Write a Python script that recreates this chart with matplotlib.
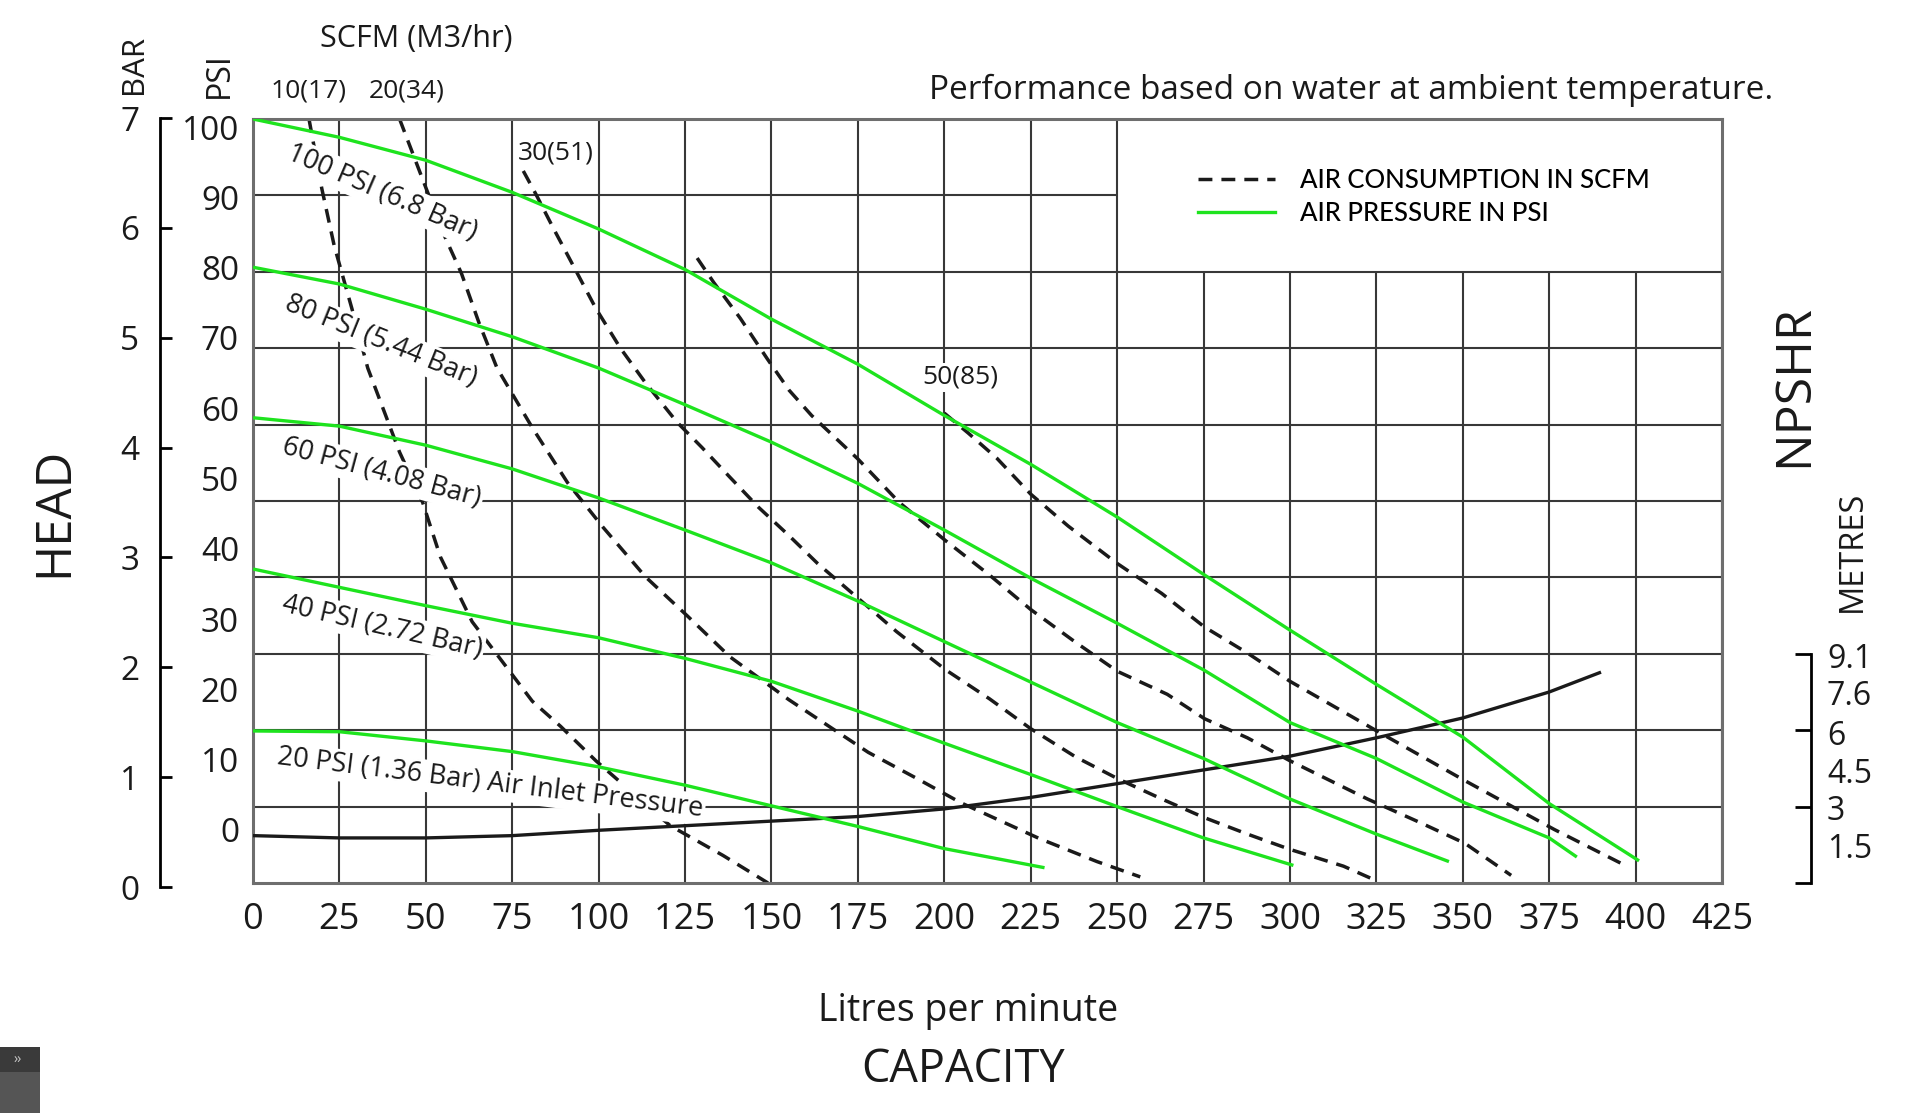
import numpy as np
import matplotlib
matplotlib.use('Agg')
import matplotlib.pyplot as plt
from matplotlib.lines import Line2D
from matplotlib.patches import Rectangle

plt.rcParams['font.family'] = ['Open Sans', 'DejaVu Sans']
plt.rcParams['font.weight'] = 'medium'

# ---- data: capacity (l/min) vs head (psi grid units) ----
psi100_lpm = [0, 25, 50, 75, 100, 125, 150, 175, 200, 225, 250, 275, 300, 325, 350, 375, 401]
psi100_head = [100, 97.6, 94.6, 90.4, 85.6, 80.3, 73.8, 67.9, 61.2, 54.8, 47.9, 40.4, 33.1, 26.0, 19.1, 10.4, 2.9]

psi80_lpm = [0, 25, 50, 75, 100, 125, 150, 175, 200, 225, 250, 275, 300, 325, 350, 375, 383]
psi80_head = [80.6, 78.4, 75.1, 71.5, 67.4, 62.6, 57.7, 52.3, 46.2, 39.9, 34.0, 27.9, 21.0, 16.3, 10.6, 5.9, 3.4]

psi60_lpm = [0, 25, 50, 75, 100, 125, 150, 175, 200, 225, 250, 275, 300, 325, 346]
psi60_head = [60.9, 59.8, 57.3, 54.2, 50.4, 46.2, 41.9, 36.9, 31.6, 26.3, 21.0, 16.3, 11.0, 6.4, 2.8]

psi40_lpm = [0, 25, 50, 75, 100, 125, 150, 175, 200, 225, 250, 275, 301]
psi40_head = [41.1, 38.7, 36.3, 34.0, 32.1, 29.4, 26.4, 22.5, 18.3, 14.2, 10.0, 5.9, 2.3]

psi20_lpm = [0, 25, 50, 75, 100, 125, 150, 175, 200, 229]
psi20_head = [19.9, 19.8, 18.6, 17.2, 15.2, 12.8, 10.1, 7.4, 4.5, 2.0]

npshr_lpm = [0, 25, 50, 75, 100, 125, 150, 175, 200, 225, 250, 275, 300, 325, 350, 375, 390]
npshr_ft = [6.2, 5.9, 5.9, 6.2, 6.9, 7.5, 8.1, 8.7, 9.7, 11.2, 13.0, 14.8, 16.6, 19.0, 21.6, 25.0, 27.6]

scfm10_lpm = [16.2, 19.9, 23.5, 28.6, 33.2, 42.4, 49.1, 54.2, 63.4, 72.6, 80.8, 89.0, 99.2, 120.7, 136.0, 149]
scfm10_head = [100, 90.9, 83.4, 75.2, 67.4, 56.4, 49.8, 42.7, 34.2, 28.7, 23.8, 20.5, 16.0, 7.5, 3.6, 0]

scfm20_lpm = [42.4, 50.1, 55.7, 60.3, 65.4, 70.6, 75.7, 80.8, 91.0, 101.2, 113.5, 125.8, 138.0, 155, 178, 192.4, 204.8, 227.6, 244.2, 256.7]
scfm20_head = [100, 90.9, 84.4, 79.8, 73.3, 67.4, 63.5, 59.6, 52.4, 46.6, 40.1, 34.9, 29.6, 24.0, 17.1, 13.6, 10.5, 5.8, 2.8, 0.8]

scfm30_lpm = [78.2, 81.8, 86.9, 93.0, 99.2, 106.3, 113.5, 122.7, 129.9, 138.0, 146.2, 155, 163.4, 175, 186.2, 200.4,
              213.1, 225, 238, 250.4, 262.9, 275, 287.7, 300, 315.5, 324]
scfm30_head = [93.2, 90.2, 85.7, 80.5, 75.2, 70.0, 65.5, 60.3, 57.0, 53.1, 49.2, 45.5, 41.8, 37.3, 32.9, 27.9,
               24.1, 20.2, 16.5, 13.6, 11.0, 8.6, 6.4, 4.4, 2.2, 0.5]

scfm40_lpm = [128.5, 133.3, 141, 148.8, 155.1, 161.6, 175, 187, 200.4, 213.1, 225, 238, 250.1, 264.5, 275.3,
              287.7, 300, 322.4, 337.7, 350.6, 364]
scfm40_head = [81.8, 78.6, 73.9, 68.6, 64.5, 61.2, 55.5, 49.8, 44.8, 40.3, 35.8, 31.5, 27.7, 24.7, 21.5,
               19.0, 16.0, 11.0, 7.9, 5.2, 1.0]

scfm50_lpm = [200, 206.9, 215.2, 225, 235.9, 250.1, 262.9, 275.3, 287.7, 300, 315.5, 325.9, 350.6, 376.5, 397]
scfm50_head = [61.5, 58.9, 55.6, 50.9, 46.7, 41.8, 37.9, 33.5, 30.1, 26.4, 22.4, 19.7, 13.4, 7.0, 2.3]

x_ticks = list(range(0, 426, 25))
psi_ticks = list(range(0, 101, 10))
bar_ticks = list(range(0, 8))
metre_labels = ['1.5', '3', '4.5', '6', '7.6', '9.1']
metre_values = [1.5, 3.0, 4.5, 6.0, 7.6, 9.1]

W, H = 1920, 1113
GREEN = '#1ee31e'
INK = '#1a1a1a'


def fx(px):
    return px / W


def fy(py):
    return 1 - py / H


fig = plt.figure(figsize=(W / 100, H / 100), dpi=100)

# main grid area
ax = fig.add_axes([fx(253), fy(883), fx(1722) - fx(253), fy(119) - fy(883)])
ax.set_xlim(0, 425)
ax.set_ylim(0, 100)
for x in x_ticks[1:]:
    ax.vlines(x, 0, 100 if x <= 250 else 80, color='#383838', lw=1.5, zorder=1)
for y in psi_ticks[1:-1]:
    ax.hlines(y, 0, 250 if y == 90 else 425, color='#383838', lw=1.5, zorder=1)
for s in ax.spines.values():
    s.set_color('#6e6e6e')
    s.set_linewidth(2.2)
ax.set_yticks([])
ax.set_xticks(x_ticks)
ax.tick_params(axis='x', length=0, pad=14, labelsize=26, labelcolor=INK)

dash = (0, (4, 2.6))
for xs, ys in [(scfm10_lpm, scfm10_head), (scfm20_lpm, scfm20_head), (scfm30_lpm, scfm30_head),
               (scfm40_lpm, scfm40_head), (scfm50_lpm, scfm50_head)]:
    ax.plot(xs, ys, color=INK, lw=2.5, ls=dash, zorder=2)

ax.plot(npshr_lpm, npshr_ft, color=INK, lw=2.4, zorder=5, solid_capstyle='butt')
for xs, ys in [(psi100_lpm, psi100_head), (psi80_lpm, psi80_head), (psi60_lpm, psi60_head),
               (psi40_lpm, psi40_head), (psi20_lpm, psi20_head)]:
    ax.plot(xs, ys, color=GREEN, lw=2.4, zorder=5, solid_capstyle='butt')

wbox = dict(facecolor='white', edgecolor='none', pad=1.5)
curve_labels = [('100 PSI (6.8 Bar)', 37.3, 90.4, -23.5),
                ('80 PSI (5.44 Bar)', 37.0, 70.9, -22),
                ('60 PSI (4.08 Bar)', 37.3, 53.7, -15),
                ('40 PSI (2.72 Bar)', 37.3, 33.5, -13),
                ('20 PSI (1.36 Bar) Air Inlet Pressure', 68.6, 13.0, -7)]
for txt, lx, ly, rot in curve_labels:
    ax.text(lx, ly, txt, rotation=rot, rotation_mode='anchor', ha='center', va='center',
            fontsize=19.5, color=INK, bbox=wbox, zorder=3)

for txt, lx, ly in [('10(17)', 16.2, 103.7), ('20(34)', 44.6, 103.7),
                    ('30(51)', 87.7, 95.6), ('50(85)', 204.7, 66.2)]:
    ax.text(lx, ly, txt, ha='center', va='center', fontsize=19, color=INK,
            bbox=wbox if ly < 100 else None, zorder=3, clip_on=False)

handles = [Line2D([], [], color=INK, lw=2.5, ls=dash), Line2D([], [], color=GREEN, lw=2.4)]
ax.legend(handles, ['AIR CONSUMPTION IN SCFM', 'AIR PRESSURE IN PSI'], loc='center left',
          bbox_to_anchor=(fx(1175), fy(197)), bbox_transform=fig.transFigure, frameon=False,
          handlelength=3.0, handletextpad=0.95, labelspacing=0.28,
          prop={'family': ['Lato', 'DejaVu Sans'], 'size': 18.5})

# psi labels (own scale, offset from the grid)
axp = fig.add_axes([fx(253), fy(830), 0.0005, fy(127) - fy(830)])
axp.set_ylim(0, 100)
axp.set_yticks(psi_ticks)
axp.set_xticks([])
axp.tick_params(axis='y', length=0, pad=10, labelsize=24, labelcolor=INK)
for s in axp.spines.values():
    s.set_visible(False)
axp.patch.set_alpha(0)

# bar bracket
axb = fig.add_axes([fx(160), fy(887), 0.0005, fy(118) - fy(887)])
axb.set_ylim(0, 7)
axb.set_yticks(bar_ticks)
axb.set_xticks([])
axb.tick_params(axis='y', direction='in', length=8.5, width=2, pad=15, labelsize=24, labelcolor=INK)
for k, s in axb.spines.items():
    s.set_visible(k == 'left')
axb.spines['left'].set_linewidth(2)
axb.patch.set_alpha(0)

# npshr bracket in metres
axn = fig.add_axes([fx(1811) - 0.0005, fy(883), 0.0005, fy(654) - fy(883)])
axn.set_ylim(0, 9.144)
axn.yaxis.tick_right()
axn.set_yticks([0, 3.048, 6.096, 9.144])
axn.set_yticks(metre_values, minor=True)
axn.set_yticklabels([])
axn.set_yticklabels(metre_labels, minor=True)
axn.set_xticks([])
axn.tick_params(axis='y', which='major', direction='in', length=11.5, width=2)
axn.tick_params(axis='y', which='minor', length=0, pad=11.5, labelsize=23, labelcolor=INK)
for k, s in axn.spines.items():
    s.set_visible(k == 'right')
axn.spines['right'].set_linewidth(2)
axn.patch.set_alpha(0)

# titles
fig.text(fx(134), fy(64), 'BAR', rotation=90, ha='center', va='center', fontsize=22.5, color=INK)
fig.text(fx(219), fy(75), 'PSI', rotation=90, ha='center', va='center', fontsize=23, color=INK)
fig.text(fx(416), fy(39), 'SCFM (M3/hr)', ha='center', va='center', fontsize=22, color=INK)
fig.text(fx(1773), fy(99), 'Performance based on water at ambient temperature.', ha='right',
         va='baseline', fontsize=24, color=INK)
fig.text(fx(55), fy(512), 'HEAD', rotation=90, ha='center', va='center', fontsize=35.5, color=INK)
fig.text(fx(1794), fy(386), 'NPSHR', rotation=90, ha='center', va='center', fontsize=36, color=INK)
fig.text(fx(1852), fy(551), 'METRES', rotation=90, ha='center', va='center', fontsize=23.5, color=INK)
fig.text(fx(968), fy(1021), 'Litres per minute', ha='center', va='baseline', fontsize=27, color=INK)
fig.text(fx(963), fy(1082), 'CAPACITY', ha='center', va='baseline', fontsize=32.5, color=INK)

# little side tab at the bottom left
fig.patches.append(Rectangle((0, 0), fx(40), fy(1047), transform=fig.transFigure,
                             facecolor='#555555', edgecolor='none'))
fig.patches.append(Rectangle((0, fy(1072)), fx(40), fy(1047) - fy(1072), transform=fig.transFigure,
                             facecolor='#3a3a3a', edgecolor='none'))
fig.text(fx(18), fy(1060), '››', ha='center', va='center', fontsize=10, color='#cccccc')

fig.savefig('out.png', dpi=100)
